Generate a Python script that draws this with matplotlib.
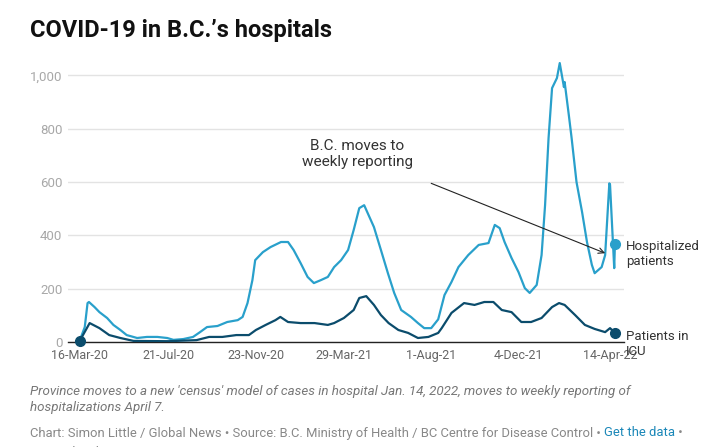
#!/usr/bin/env python3
"""
plot.py
COVID-19 patients in B.C. hospitals and ICU, Mar 2020 - Apr 2022
"""
import pandas as pd
import matplotlib.pyplot as plt
from matplotlib.ticker import FuncFormatter

plt.rcParams['font.family'] = ['Roboto', 'DejaVu Sans']

# Hospitalized patients
hosp_dates = [
    '2020-03-16', '2020-03-23', '2020-03-27', '2020-03-29', '2020-04-06',
    '2020-04-13', '2020-04-24', '2020-05-03', '2020-05-13', '2020-05-22',
    '2020-06-06', '2020-06-20', '2020-07-05', '2020-07-19', '2020-07-28',
    '2020-08-11', '2020-08-25', '2020-09-04', '2020-09-14', '2020-09-29',
    '2020-10-13', '2020-10-28', '2020-11-04', '2020-11-11', '2020-11-18',
    '2020-11-22', '2020-12-03', '2020-12-14', '2020-12-29', '2021-01-08',
    '2021-01-16', '2021-01-26', '2021-02-05', '2021-02-14', '2021-02-24',
    '2021-03-06', '2021-03-15', '2021-03-25', '2021-04-04', '2021-04-12',
    '2021-04-20', '2021-04-27', '2021-05-11', '2021-05-21', '2021-05-31',
    '2021-06-09', '2021-06-19', '2021-07-03', '2021-07-13', '2021-07-22',
    '2021-08-01', '2021-08-11', '2021-08-20', '2021-08-30', '2021-09-09',
    '2021-09-23', '2021-10-08', '2021-10-22', '2021-10-31', '2021-11-07',
    '2021-11-14', '2021-11-24', '2021-12-04', '2021-12-13', '2021-12-20',
    '2021-12-30', '2022-01-06', '2022-01-11', '2022-01-16', '2022-01-21',
    '2022-01-28', '2022-02-01', '2022-02-07', '2022-02-08', '2022-02-14',
    '2022-02-18', '2022-02-25', '2022-03-05', '2022-03-12', '2022-03-19',
    '2022-03-23', '2022-04-02', '2022-04-07', '2022-04-13', '2022-04-14',
    '2022-04-20', '2022-04-21',
]
hosp_vals = [
    7, 56, 146, 150, 131,
    112, 90, 64, 45, 26,
    15, 19, 19, 15, 8,
    11, 19, 37, 56, 60,
    75, 82, 94, 146, 232,
    307, 337, 356, 375, 375,
    345, 296, 244, 221, 232,
    244, 281, 307, 345, 420,
    502, 513, 431, 345, 258,
    184, 120, 94, 71, 52,
    52, 85, 176, 225, 281,
    326, 364, 371, 439, 427,
    375, 315, 262, 202, 184,
    214, 326, 513, 765, 952,
    990, 1046, 956, 975, 851,
    765, 600, 487, 375, 289,
    258, 281, 326, 595, 590,
    277, 367,
]

# Patients in ICU
icu_dates = [
    '2020-03-16', '2020-03-30', '2020-04-13', '2020-04-27', '2020-05-13',
    '2020-06-01', '2020-07-21', '2020-08-30', '2020-09-17', '2020-10-06',
    '2020-10-26', '2020-11-13', '2020-11-23', '2020-12-07', '2020-12-21',
    '2020-12-28', '2021-01-08', '2021-01-26', '2021-02-15', '2021-03-06',
    '2021-03-15', '2021-03-29', '2021-04-12', '2021-04-20', '2021-04-30',
    '2021-05-11', '2021-05-21', '2021-06-01', '2021-06-15', '2021-06-29',
    '2021-07-13', '2021-07-28', '2021-08-11', '2021-08-16', '2021-08-30',
    '2021-09-17', '2021-10-02', '2021-10-16', '2021-10-29', '2021-11-10',
    '2021-11-24', '2021-12-08', '2021-12-22', '2022-01-06', '2022-01-21',
    '2022-01-31', '2022-02-08', '2022-02-23', '2022-03-09', '2022-03-23',
    '2022-04-07', '2022-04-14', '2022-04-21',
]
icu_vals = [
    5, 71, 52, 26, 15,
    4, 3, 7, 19, 19,
    26, 26, 45, 64, 82,
    94, 75, 71, 71, 64,
    71, 90, 120, 165, 172,
    139, 101, 71, 45, 34,
    15, 19, 34, 52, 109,
    146, 139, 150, 150, 120,
    112, 75, 75, 90, 131,
    146, 139, 101, 64, 49,
    37, 52, 34,
]

tick_dates = ['2020-03-16', '2020-07-21', '2020-11-23', '2021-03-29',
              '2021-08-01', '2021-12-04', '2022-04-14']
tick_labels = ['16-Mar-20', '21-Jul-20', '23-Nov-20', '29-Mar-21',
               '1-Aug-21', '4-Dec-21', '14-Apr-22']

HOSP_COLOR = '#29a0cb'
ICU_COLOR = '#0b4c6c'

W, H = 704, 447
fig = plt.figure(figsize=(W / 100, H / 100), dpi=100)
fig.patch.set_facecolor('white')


def fx(px):
    return px / W


def fy(py):
    return 1 - py / H


ax = fig.add_axes([fx(68), fy(342), fx(624) - fx(68), fy(62) - fy(342)])

hd = pd.to_datetime(hosp_dates)
idt = pd.to_datetime(icu_dates)

ax.plot(hd, hosp_vals, color=HOSP_COLOR, lw=1.6, zorder=3)
ax.plot(idt, icu_vals, color=ICU_COLOR, lw=1.6, zorder=4)
# end / start dots
ax.plot(hd[-1], hosp_vals[-1], 'o', color=HOSP_COLOR, ms=7, zorder=5)
ax.plot(idt[-1], icu_vals[-1], 'o', color=ICU_COLOR, ms=7, zorder=5)
ax.plot(idt[0], icu_vals[0], 'o', color=ICU_COLOR, ms=7, zorder=5,
        clip_on=False)

ax.set_xlim(pd.Timestamp('2020-02-28'), pd.Timestamp('2022-05-04'))
ax.set_ylim(0, 1050)

ax.set_yticks([0, 200, 400, 600, 800, 1000])
ax.yaxis.set_major_formatter(FuncFormatter(lambda v, p: f'{int(v):,}'))
ax.set_xticks(pd.to_datetime(tick_dates))
ax.set_xticklabels(tick_labels)

ax.grid(axis='y', color='#e3e3e3', lw=1)
ax.set_axisbelow(True)
for side in ['top', 'right', 'left']:
    ax.spines[side].set_visible(False)
ax.spines['bottom'].set_color('#222222')
ax.spines['bottom'].set_linewidth(1)
ax.tick_params(axis='y', length=0, pad=4, labelsize=9.5, labelcolor='#a8a8a8')
ax.tick_params(axis='x', length=0, pad=5, labelsize=9, labelcolor='#666666')

# annotation
ax.annotate('', xy=(pd.Timestamp('2022-04-07'), 333),
            xytext=(pd.Timestamp('2021-08-01'), 595),
            arrowprops=dict(arrowstyle='->', color='#222222', lw=0.8,
                            shrinkA=0, shrinkB=0), zorder=6)
fig.text(fx(357), fy(154), 'B.C. moves to\nweekly reporting', ha='center',
         va='center', fontsize=11, color='#333333', linespacing=1.15)

# line labels
fig.text(fx(626), fy(254), 'Hospitalized\npatients', ha='left', va='center',
         fontsize=9.5, color='#333333', linespacing=1.2)
fig.text(fx(626), fy(344), 'Patients in\nICU', ha='left', va='center',
         fontsize=9.5, color='#333333', linespacing=1.2)

# title and notes
fig.text(fx(30), fy(31), 'COVID-19 in B.C.\u2019s hospitals', ha='left',
         va='center', fontsize=17, fontweight='bold', color='#111111')
fig.text(fx(30), fy(399),
         "Province moves to a new 'census' model of cases in hospital "
         "Jan. 14, 2022, moves to weekly reporting of\n"
         "hospitalizations April 7.",
         ha='left', va='center', fontsize=9.6, style='italic',
         color='#777777', linespacing=1.3)

FOOT = 9.4
footer = ('Chart: Simon Little / Global News \u2022 Source: B.C. Ministry of '
          'Health / BC Centre for Disease Control \u2022 ')
t = fig.text(fx(30), fy(433), footer, ha='left', va='center', fontsize=FOOT,
             color='#888888')
fig.canvas.draw()
bb = t.get_window_extent()
t2 = fig.text(bb.x1 / W, fy(433), 'Get the data', ha='left', va='center',
              fontsize=FOOT, color='#1a87b8')
fig.canvas.draw()
bb2 = t2.get_window_extent()
fig.text(bb2.x1 / W, fy(433), ' \u2022', ha='left', va='center',
         fontsize=FOOT, color='#888888')
t3 = fig.text(fx(30), fy(453), 'Created with ', ha='left', va='center',
              fontsize=FOOT, color='#888888')
fig.canvas.draw()
bb3 = t3.get_window_extent()
fig.text(bb3.x1 / W, fy(453), 'Datawrapper', ha='left', va='center',
         fontsize=FOOT, color='#1a87b8')

fig.savefig('out.png', dpi=100)
